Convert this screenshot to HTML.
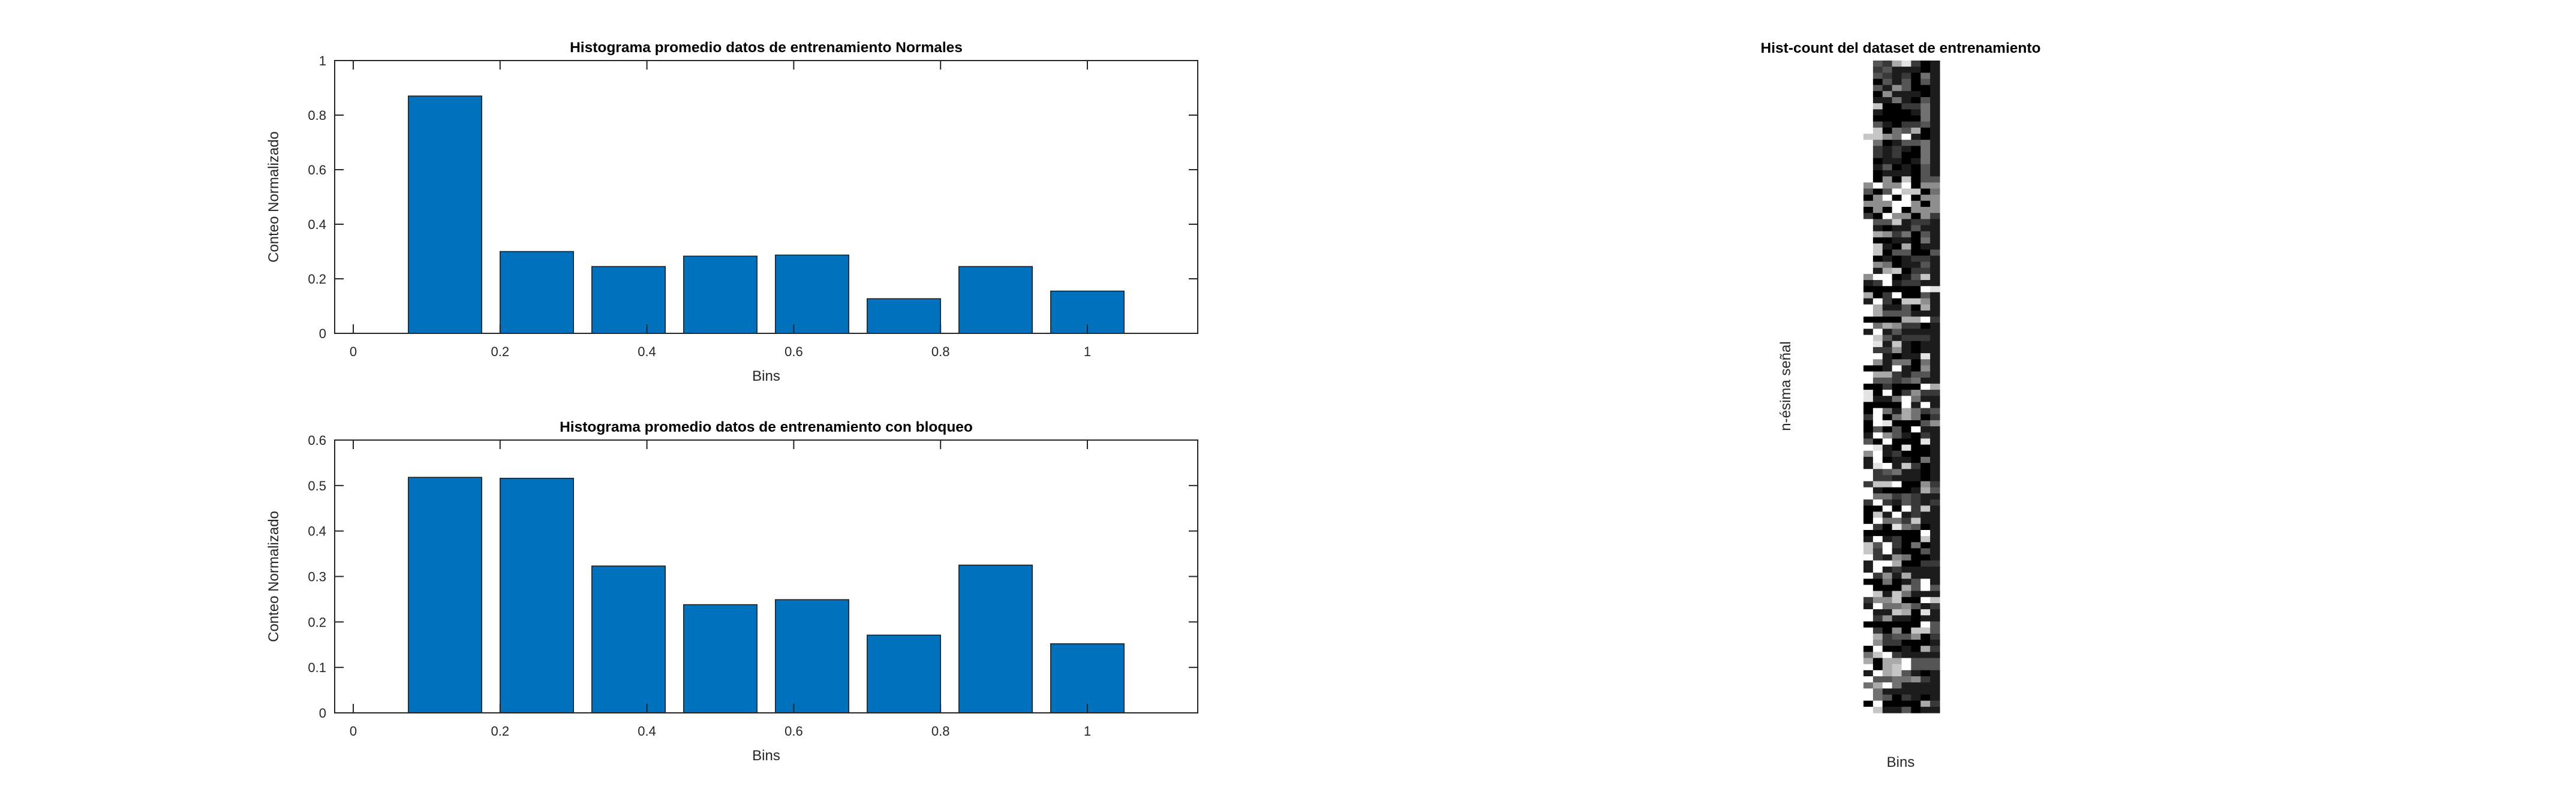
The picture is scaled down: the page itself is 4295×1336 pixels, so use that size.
<!DOCTYPE html>
<html><head><meta charset="utf-8"><style>
html,body{margin:0;padding:0;background:#fff;}
svg{display:block;font-family:"Liberation Sans",sans-serif;}
</style></head><body>
<svg id="chart" width="4295" height="1336" viewBox="0 0 4295 1336" xmlns="http://www.w3.org/2000/svg">
<rect x="0" y="0" width="4295" height="1336" fill="#fff"/>
</svg>
<script>
const binCenters = [0.125, 0.25, 0.375, 0.5, 0.625, 0.75, 0.875, 1.0];
const normalValues = [0.87, 0.30, 0.245, 0.283, 0.287, 0.127, 0.245, 0.155];
const blockValues = [0.518, 0.516, 0.323, 0.238, 0.249, 0.171, 0.325, 0.152];
const xTicks = [0, 0.2, 0.4, 0.6, 0.8, 1];
const xTickLabels = ["0", "0.2", "0.4", "0.6", "0.8", "1"];
const yTicksTop = [0, 0.2, 0.4, 0.6, 0.8, 1];
const yTickLabelsTop = ["0", "0.2", "0.4", "0.6", "0.8", "1"];
const yTicksBottom = [0, 0.1, 0.2, 0.3, 0.4, 0.5, 0.6];
const yTickLabelsBottom = ["0", "0.1", "0.2", "0.3", "0.4", "0.5", "0.6"];
const heatRows = [
"93268201","92311101","93212041","90313031","93153001","90511101","91141031","97002241",
"91000141","90000041","93102231","97043601","77549101","94013341","92121041","92120041",
"90110141","91301031","90111031","90507033","59559055","30397704","05909055","55599505",
"05090555","20955052","93371221","91011311","96524031","90011041","97106011","97033003",
"90101221","95401131","91670221","59901371","12912211","00000098","60290031","19207751",
"96113061","96333111","00006692","94652201","19131111","97312221","98171011","92251011",
"99101181","95144041","00191051","96621331","93323411","00200096",
"80902522","81149411","00009191","09416423","29046402","09800035","03030911","19531021",
"30900081","98108001","59120001","19011041","18917201","92341101","92211101","27790052",
"91000163","94423211","29213212","00909271","07191211","09442711","92084301","00000091",
"19120071","73920401","72910031","92154001","19960022","19121111","92516111","00401391",
"90006393","97174111","25570097","19445312","91176081","92511011","00000093","92050773",
"96233502","95220001","09001062","47921111","60669333","90679333","19673101","93344521",
"46941111","94111111","94302101","09000062","97113011"
];
const svg = document.getElementById('chart');
const NS = 'http://www.w3.org/2000/svg';
function mk(tag, attrs, parent) {
  const e = document.createElementNS(NS, tag);
  for (const k in attrs) e.setAttribute(k, attrs[k]);
  (parent || svg).appendChild(e);
  return e;
}
function txt(s, attrs, parent) { const t = mk('text', attrs, parent); t.textContent = s; return t; }

function drawPanel(cfg) {
  const g = mk('g', {});
  
  
  const L = 558, R = 1997, T = cfg.top, B = cfg.bottom;
  const x0px = 589, unit = 1224;
  const xs = v => x0px + v * unit;
  const ys = v => B - (v / cfg.ymax) * (B - T);
  cfg.values.forEach((v, i) => {
    const c = binCenters[i];
    const r = mk('rect', {x: xs(c - 0.05), y: ys(v), width: xs(c + 0.05) - xs(c - 0.05), height: B - ys(v), fill: '#0072BD', stroke: '#1a1a1a', 'stroke-width': 1.5}, g);
    
    
  });
  xTicks.forEach((v, i) => {
    const x = xs(v);
    mk('line', {x1: x, y1: B, x2: x, y2: B - 15, stroke: '#262626', 'stroke-width': 2}, g);
    mk('line', {x1: x, y1: T, x2: x, y2: T + 15, stroke: '#262626', 'stroke-width': 2}, g);
    const t = txt(xTickLabels[i], {x: x, y: B + 38, 'font-size': 22, 'text-anchor': 'middle', fill: '#262626'}, g);
    
    
  });
  cfg.yticks.forEach((v, i) => {
    const y = ys(v);
    mk('line', {x1: L, y1: y, x2: L + 15, y2: y, stroke: '#262626', 'stroke-width': 2}, g);
    mk('line', {x1: R, y1: y, x2: R - 15, y2: y, stroke: '#262626', 'stroke-width': 2}, g);
    const t = txt(cfg.ylabels[i], {x: L - 14, y: y + 8, 'font-size': 22, 'text-anchor': 'end', fill: '#262626'}, g);
    
    
  });
  mk('rect', {x: L, y: T, width: R - L, height: B - T, fill: 'none', stroke: '#262626', 'stroke-width': 2}, g);
  const ti = txt(cfg.title, {x: (L + R) / 2, y: T - 14, 'font-size': 24.5, 'font-weight': 'bold', 'text-anchor': 'middle', fill: '#000'}, g);
  
  
  const xl = txt('Bins', {x: (L + R) / 2, y: B + 79, 'font-size': 24, 'text-anchor': 'middle', fill: '#262626'}, g);
  
  
  const yl = txt('Conteo Normalizado', {x: 0, y: 0, 'font-size': 24, 'text-anchor': 'middle', fill: '#262626', transform: 'translate(464,' + ((T + B) / 2) + ') rotate(-90)'}, g);
  
  
}
drawPanel({name: 'normal-histogram', top: 101, bottom: 556, ymax: 1, values: normalValues, yticks: yTicksTop, ylabels: yTickLabelsTop, title: 'Histograma promedio datos de entrenamiento Normales'});
drawPanel({name: 'block-histogram', top: 734, bottom: 1189, ymax: 0.6, values: blockValues, yticks: yTicksBottom, ylabels: yTickLabelsBottom, title: 'Histograma promedio datos de entrenamiento con bloqueo'});

const hg = mk('g', {});


const HL = 3107, HR = 3234, HT = 101, HB = 1189;
const nCols = 8, nRows = heatRows.length;
const cw = (HR - HL) / nCols, rh = (HB - HT) / nRows;
heatRows.forEach((row, r) => {
  for (let c = 0; c < nCols; c++) {
    const v = parseInt(row[c], 10);
    const g255 = Math.round(v / 9 * 255);
    const cell = mk('rect', {x: HL + c * cw, y: HT + r * rh, width: cw + 0.6, height: rh + 0.6, fill: 'rgb(' + g255 + ',' + g255 + ',' + g255 + ')'}, hg);
    
    
  }
});
const ht = txt('Hist-count del dataset de entrenamiento', {x: 3169, y: 88, 'font-size': 24.5, 'font-weight': 'bold', 'text-anchor': 'middle', fill: '#000'}, hg);


const hx = txt('Bins', {x: 3169, y: 1279, 'font-size': 24, 'text-anchor': 'middle', fill: '#262626'}, hg);


const hy = txt('n-ésima señal', {x: 0, y: 0, 'font-size': 24, 'text-anchor': 'middle', fill: '#262626', transform: 'translate(2985,644) rotate(-90)'}, hg);


</script>
</body></html>
